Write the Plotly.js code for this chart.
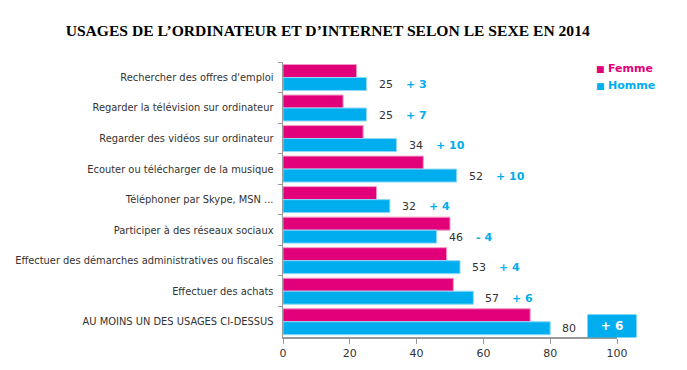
<!DOCTYPE html>
<html>
<head>
<meta charset="utf-8">
<script src="https://cdn.plot.ly/plotly-3.0.1.min.js"></script>
<style>html,body{margin:0;padding:0;background:#fff;}#chart{width:687px;height:370px;}</style>
</head>
<body>
<div id="chart"></div>
<script>
const categories = [
  "Rechercher des offres d'emploi",
  "Regarder la télévision sur ordinateur",
  "Regarder des vidéos sur ordinateur",
  "Ecouter ou télécharger de la musique",
  "Téléphoner par Skype, MSN ...",
  "Participer à des réseaux sociaux",
  "Effectuer des démarches administratives ou fiscales",
  "Effectuer des achats",
  "AU MOINS UN DES USAGES CI-DESSUS"
];
const femme = [22, 18, 24, 42, 28, 50, 49, 51, 74];
const homme = [25, 25, 34, 52, 32, 46, 53, 57, 80];
const ecart = ["+ 3", "+ 7", "+ 10", "+ 10", "+ 4", "- 4", "+ 4", "+ 6", "+ 6"];
const seriesNames = ["Femme", "Homme"];
const xTicks = [0, 20, 40, 60, 80, 100];

const PINK = "#E2007A";
const BLUE = "#00AEEF";

const traces = [
  {
    type: "bar", orientation: "h", name: seriesNames[0],
    y: categories, x: femme, showlegend: false,
    marker: {color: PINK, line: {color: "#f29ac4", width: 1}}
  },
  {
    type: "bar", orientation: "h", name: seriesNames[1],
    y: categories, x: homme, showlegend: false,
    marker: {color: BLUE, line: {color: "#8fd8f7", width: 1}}
  }
];

const annotations = [];
homme.forEach((v, i) => {
  annotations.push({
    x: v, y: categories[i], xref: "x", yref: "y",
    text: String(v), showarrow: false, xanchor: "left", yanchor: "middle",
    xshift: 10, yshift: -7,
    font: {family: "DejaVu Sans", size: 11, color: "#333"}
  });
  const last = i === homme.length - 1;
  annotations.push(last ? {
    x: v, y: categories[i], xref: "x", yref: "y",
    text: "<b>" + ecart[i] + "</b>", showarrow: false, xanchor: "left", yanchor: "middle",
    xshift: 37, yshift: -4,
    bgcolor: BLUE, width: 44, height: 18, borderpad: 2, align: "center",
    font: {family: "DejaVu Sans", size: 12, color: "#fff"}
  } : {
    x: v, y: categories[i], xref: "x", yref: "y",
    text: "<b>" + ecart[i] + "</b>", showarrow: false, xanchor: "left", yanchor: "middle",
    xshift: 37, yshift: -7,
    font: {family: "DejaVu Sans", size: 11, color: BLUE}
  });
});

// legend (drawn as annotations for tight marker/text spacing)
[[seriesNames[0], PINK], [seriesNames[1], BLUE]].forEach((s, k) => {
  annotations.push({
    xref: "paper", yref: "paper", x: 0.932, y: 0.978 - k * 0.062,
    xanchor: "left", yanchor: "middle", showarrow: false,
    text: '<span style="font-size:9px">■</span> <b>' + s[0] + '</b>',
    font: {family: "DejaVu Sans", size: 11, color: s[1]}
  });
});

const layout = {
  width: 687, height: 370,
  paper_bgcolor: "#fff", plot_bgcolor: "#fff",
  margin: {l: 283, r: 70, t: 62, b: 33, autoexpand: false},
  title: {
    text: "<b>USAGES DE L’ORDINATEUR ET D’INTERNET SELON LE SEXE EN 2014</b>",
    font: {family: "Liberation Serif", size: 15.6, color: "#000"},
    x: 0.477, xanchor: "center", y: 0.918, yanchor: "middle"
  },
  barmode: "group", bargap: 0.15, bargroupgap: 0,
  xaxis: {
    range: [0, 100], tickvals: xTicks, ticktext: xTicks.map(String),
    showgrid: false, zeroline: false,
    showline: true, linecolor: "#999", linewidth: 1.5,
    ticks: "outside", ticklen: 5, tickcolor: "#999",
    tickfont: {family: "DejaVu Sans", size: 11, color: "#333"},
    fixedrange: true
  },
  yaxis: {
    autorange: "reversed", type: "category",
    showgrid: false, zeroline: false,
    showline: true, linecolor: "#999", linewidth: 1.5,
    ticks: "outside", ticklen: 4, tickcolor: "#999", tickson: "boundaries",
    tickfont: {family: "DejaVu Sans", size: 9.9, color: "#333"},
    ticklabelstandoff: 6,
    fixedrange: true
  },
  showlegend: false,
  annotations: annotations
};

Plotly.newPlot("chart", traces, layout, {displayModeBar: false, staticPlot: true});
</script>
</body>
</html>
